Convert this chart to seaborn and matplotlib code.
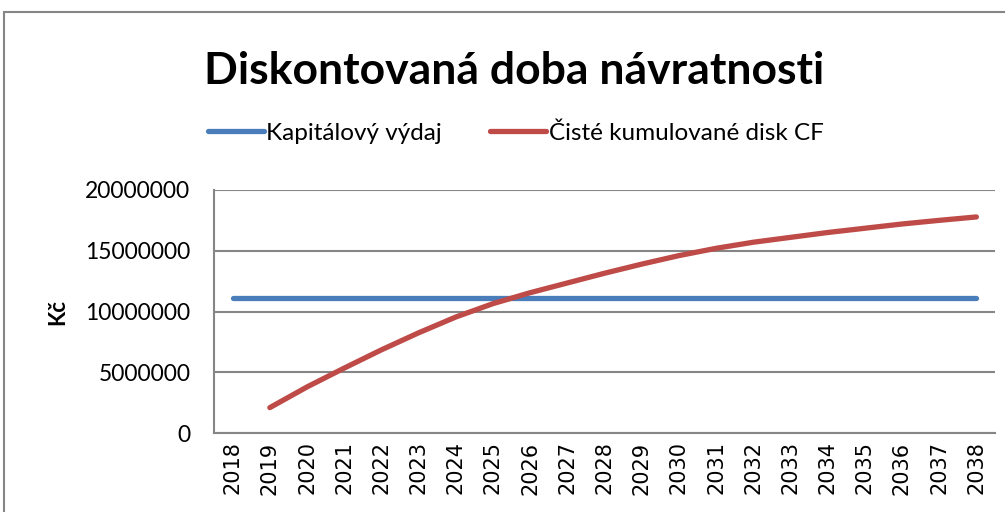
import matplotlib
matplotlib.use("Agg")
import matplotlib.pyplot as plt
import seaborn as sns
import pandas as pd
import numpy as np

# data
years = list(range(2018, 2039))
kapitalovy_vydaj = [11100000] * 21
ciste_kumulovane = [np.nan, 2100000, 3800000, 5350000, 6850000, 8250000, 9550000,
                    10650000, 11550000, 12350000, 13150000, 13900000, 14600000,
                    15200000, 15700000, 16100000, 16500000, 16850000, 17200000,
                    17500000, 17780000]
series_names = ["Kapitálový výdaj", "Čisté kumulované disk CF"]
colors = ["#4a7ebb", "#be4b48"]

df = pd.DataFrame({
    "rok": years * 2,
    "hodnota": kapitalovy_vydaj + ciste_kumulovane,
    "rada": [series_names[0]] * 21 + [series_names[1]] * 21,
})

sns.set_style("white")
plt.rcParams["font.family"] = ["Lato", "DejaVu Sans"]
plt.rcParams["text.color"] = "black"
plt.rcParams["xtick.color"] = "black"
plt.rcParams["ytick.color"] = "black"
plt.rcParams["axes.labelcolor"] = "black"

fig = plt.figure(figsize=(10.05, 5.12), dpi=100)
ax = fig.add_axes([0.213, 0.154, 0.777, 0.475])

sns.lineplot(data=df, x="rok", y="hodnota", hue="rada", palette=colors,
             linewidth=3.8, ax=ax, legend=False, solid_capstyle="round",
             solid_joinstyle="round")

ax.set_xlim(2017.5, 2038.5)
ax.set_ylim(0, 20000000)
ax.set_yticks([0, 5000000, 10000000, 15000000, 20000000])
ax.set_yticklabels(["0", "5000000", "10000000", "15000000", "20000000"], fontsize=16.5)
ax.set_xticks(years)
ax.set_xticklabels([str(y) for y in years], rotation=90, fontsize=15,
                   family="DejaVu Sans")
ax.yaxis.grid(True, color="#868686", linewidth=1.5)
ax.set_axisbelow(True)
for s in ["top", "right"]:
    ax.spines[s].set_visible(False)
for s in ["left", "bottom"]:
    ax.spines[s].set_color("#868686")
    ax.spines[s].set_linewidth(1.5)
ax.tick_params(axis="y", length=3, color="#868686", pad=14)
ax.tick_params(axis="x", length=0, pad=6)
ax.set_xlabel("")
ax.set_ylabel("Kč", fontsize=16, fontweight="bold", labelpad=12)

fig.suptitle("Diskontovaná doba návratnosti", x=0.512, y=0.900,
             fontsize=32, fontweight="bold", color="black")

handles = [plt.Line2D([], [], color=c, linewidth=3.8, solid_capstyle="round") for c in colors]
fig.legend(handles, series_names, loc="center", bbox_to_anchor=(0.513, 0.74), ncol=2,
           frameon=False, fontsize=17.5, handlelength=2.3, handletextpad=0.1,
           columnspacing=2.0)

# outer chart border
fig.patches.append(plt.Rectangle((4 / 1005, -0.05), 1.2, 1 - 12 / 512 + 0.05,
                                 transform=fig.transFigure, fill=False,
                                 edgecolor="#868686", linewidth=1.5))

fig.savefig("out.png", dpi=100)
